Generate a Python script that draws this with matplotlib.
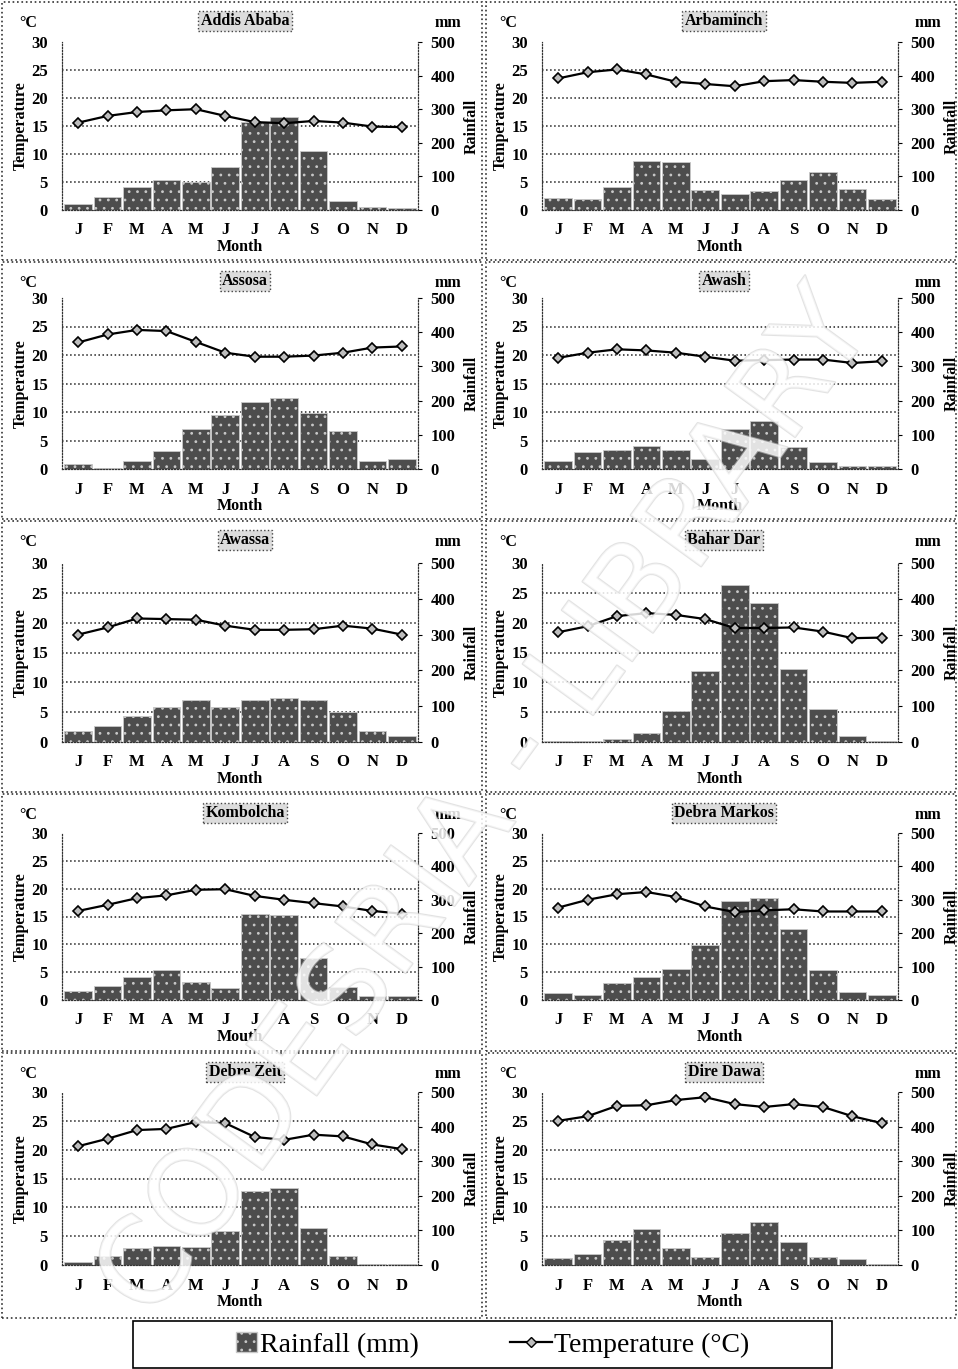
import numpy as np
import matplotlib
matplotlib.use("Agg")
import matplotlib.pyplot as plt
from matplotlib.patches import Rectangle, Patch
from matplotlib.lines import Line2D
import matplotlib.patheffects as pe

plt.rcParams["font.family"] = ["Liberation Serif", "DejaVu Serif"]
plt.rcParams["hatch.linewidth"] = 0.8

months = ["J", "F", "M", "A", "M", "J", "J", "A", "S", "O", "N", "D"]

stations = ["Addis Ababa", "Arbaminch", "Assosa", "Awash", "Awassa",
            "Bahar Dar", "Kombolcha", "Debra Markos", "Debre Zeit", "Dire Dawa"]

# monthly rainfall (mm)
rain_addis = [17, 40, 67, 88, 83, 127, 263, 278, 177, 27, 8, 5]
rain_arba = [37, 32, 67, 147, 143, 60, 47, 57, 88, 113, 63, 32]
rain_assosa = [15, 3, 22, 52, 117, 158, 197, 207, 163, 112, 22, 28]
rain_awash = [22, 50, 55, 67, 55, 30, 117, 140, 63, 20, 10, 10]
rain_awassa = [30, 45, 72, 98, 117, 97, 117, 123, 117, 83, 30, 17]
rain_bahar = [2, 2, 7, 25, 87, 197, 438, 388, 203, 93, 17, 2]
rain_kombolcha = [27, 42, 70, 90, 55, 37, 258, 255, 125, 38, 13, 13]
rain_markos = [20, 15, 50, 68, 93, 165, 297, 305, 213, 90, 23, 15]
rain_zeit = [8, 25, 50, 55, 53, 97, 215, 223, 107, 27, 2, 2]
rain_dire = [20, 33, 72, 103, 48, 23, 93, 125, 67, 23, 17, 3]

# monthly mean temperature (°C)
temp_addis = [15.6, 16.8, 17.5, 17.8, 18.0, 16.8, 15.7, 15.5, 15.9, 15.6, 14.9, 14.8]
temp_arba = [23.5, 24.6, 25.1, 24.2, 22.9, 22.5, 22.1, 23.0, 23.2, 22.9, 22.7, 22.9]
temp_assosa = [22.2, 23.6, 24.4, 24.2, 22.3, 20.4, 19.7, 19.7, 19.9, 20.4, 21.3, 21.5]
temp_awash = [19.5, 20.4, 21.0, 20.8, 20.4, 19.7, 19.0, 19.1, 19.2, 19.2, 18.6, 18.9]
temp_awassa = [18.0, 19.2, 20.7, 20.6, 20.5, 19.5, 18.8, 18.8, 18.9, 19.5, 19.0, 18.0]
temp_bahar = [18.4, 19.4, 21.1, 21.6, 21.3, 20.6, 19.1, 19.1, 19.2, 18.5, 17.4, 17.5]
temp_kombolcha = [16.0, 17.1, 18.3, 18.8, 19.8, 19.9, 18.7, 18.0, 17.4, 16.8, 16.0, 15.5]
temp_markos = [16.6, 18.0, 19.0, 19.4, 18.5, 16.8, 15.8, 16.1, 16.3, 15.9, 15.9, 15.9]
temp_zeit = [20.6, 21.9, 23.4, 23.6, 24.8, 24.6, 22.2, 21.7, 22.6, 22.3, 20.9, 20.1]
temp_dire = [25.0, 25.8, 27.6, 27.7, 28.6, 29.1, 27.9, 27.4, 27.9, 27.4, 25.8, 24.6]

rains = [rain_addis, rain_arba, rain_assosa, rain_awash, rain_awassa,
         rain_bahar, rain_kombolcha, rain_markos, rain_zeit, rain_dire]
temps = [temp_addis, temp_arba, temp_assosa, temp_awash, temp_awassa,
         temp_bahar, temp_kombolcha, temp_markos, temp_zeit, temp_dire]
xlabels = ["Month"] * 6 + ["Mouth", "Month", "Month", "Month"]

W, H = 958, 1369
fig = plt.figure(figsize=(W / 100, H / 100), dpi=100)

# pixel layout helpers
rows_top = [2, 262, 521, 794, 1053]
rows_bot = [260, 519, 792, 1051, 1318]
rows_axes = [(42, 210), (298, 469), (563, 742), (833, 1000), (1092, 1265)]
cols = [(2, 482, 62, 418), (486, 956, 542, 898)]


def fx(x):
    return x / W


def fy(y):
    return 1 - y / H


bar_face = "#4d4d4d"
bar_edge = "#c8c8c8"
bold = dict(fontweight="bold", fontsize=11.5)

for i, name in enumerate(stations):
    r, c = divmod(i, 2)
    p_left, p_right, a_left, a_right = cols[c]
    y30, y0 = rows_axes[r]

    # panel frame
    fig.add_artist(Rectangle((fx(p_left), fy(rows_bot[r])),
                             fx(p_right - p_left), (rows_bot[r] - rows_top[r]) / H,
                             transform=fig.transFigure, fill=False,
                             ls=":", lw=1.2, ec="#333333"))

    ax2 = fig.add_axes([fx(a_left), fy(y0), fx(a_right - a_left), (y0 - y30) / H])
    ax = ax2.twinx()
    # temperature axis on the left, rainfall on the right
    ax.yaxis.tick_left()
    ax.yaxis.set_label_position("left")
    ax2.yaxis.tick_right()
    ax2.yaxis.set_label_position("right")

    x = np.arange(12)
    ax2.bar(x, rains[i], width=0.94, color=bar_face, edgecolor=bar_edge,
            hatch="..", lw=0.6, zorder=2)
    ax2.set_ylim(0, 500)
    ax2.set_yticks(range(0, 501, 100))
    ax2.set_yticks(np.linspace(0, 500, 7), minor=True)
    ax2.grid(which="minor", axis="y", ls=":", lw=1.1, color="#222222")
    ax2.set_axisbelow(True)
    ax2.tick_params(axis="y", which="minor", length=0)
    ax2.tick_params(axis="y", which="major", length=3, pad=6, labelsize=12)
    ax2.set_ylabel("Rainfall", **bold, labelpad=6)

    ax.plot(x, temps[i], color="black", lw=1.6, marker="D", ms=5,
            mfc="#bdbdbd", mec="black", mew=1.2, zorder=3)
    ax.set_ylim(0, 30)
    ax.set_yticks(range(0, 31, 5))
    ax.tick_params(axis="y", length=0, pad=10, labelsize=12)
    ax.set_ylabel("Temperature", **bold, labelpad=2)
    ax.set_zorder(ax2.get_zorder() + 1)
    ax.patch.set_visible(False)

    ax2.set_xlim(-0.55, 11.55)
    ax2.set_xticks(x)
    ax2.set_xticklabels(months)
    ax2.tick_params(axis="x", length=0, pad=9, labelsize=12)
    ax2.set_xlabel(xlabels[i], **bold, labelpad=0.5)

    for a in (ax, ax2):
        for s in a.spines.values():
            s.set_linestyle(":")
            s.set_color("#333333")
        a.spines["top"].set_visible(False)
        for lab in a.get_yticklabels() + a.get_xticklabels():
            lab.set_fontweight("bold")

    # station name and units
    cx = (p_left + p_right) / 2 + 3
    fig.text(fx(cx), fy(rows_top[r] + 19), name, ha="center", va="center",
             fontsize=11.5, fontweight="bold",
             bbox=dict(boxstyle="square,pad=0.15", fc="#dcdcdc", ec="#444444",
                       ls=":", lw=1))
    fig.text(fx(a_left - 34), fy(rows_top[r] + 21), "°C", ha="center",
             va="center", fontsize=11.5, fontweight="bold")
    fig.text(fx(a_right + 30), fy(rows_top[r] + 21), "mm", ha="center",
             va="center", fontsize=11.5, fontweight="bold")

# legend box at the bottom
fig.add_artist(Rectangle((fx(133), fy(1368)), fx(832 - 133), 47 / H,
                         transform=fig.transFigure, fill=False, lw=1.2,
                         ec="black"))
leg_kw = dict(frameon=False, prop={"size": 20}, borderpad=0,
              borderaxespad=0, loc="center left")
fig.legend([Patch(fc=bar_face, ec=bar_edge, hatch="..")], ["Rainfall (mm)"],
           bbox_to_anchor=(fx(236), fy(1345)), handlelength=0.75,
           handletextpad=0.1, **leg_kw)
fig.legend([Line2D([], [], color="black", lw=1.6, marker="D", ms=5,
                   mfc="#bdbdbd", mec="black")], ["Temperature (°C)"],
           bbox_to_anchor=(fx(510), fy(1345)), handlelength=1.5,
           handletextpad=0.1, **leg_kw)

# library watermark
fig.text(fx(487), fy(805), "CODESRIA - LIBRARY", ha="center", va="center",
         rotation=54, fontsize=86, family="DejaVu Sans", color="white",
         alpha=0.6, zorder=10,
         path_effects=[pe.withStroke(linewidth=1.5, foreground="#d0d0d0")])

fig.savefig("out.png", dpi=100, facecolor="white")
